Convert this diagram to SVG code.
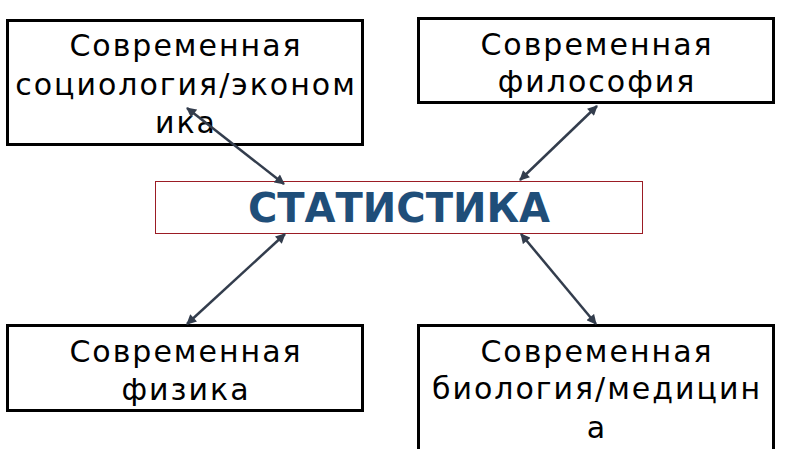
<svg xmlns="http://www.w3.org/2000/svg" width="800" height="449" viewBox="0 0 800 449">
<style>
.box{fill:#fff;stroke:#000;stroke-width:3}
.t{font-family:"DejaVu Sans",sans-serif;font-size:30px;fill:#000;text-anchor:middle;letter-spacing:2px}
.c{stroke:#333d4d;stroke-width:2.5;fill:none;marker-start:url(#ah);marker-end:url(#ah)}
</style>
<defs>
<marker id="ah" viewBox="0 0 10 10" refX="9" refY="5" markerWidth="4.4" markerHeight="4" orient="auto-start-reverse" markerUnits="strokeWidth">
<path d="M0,0 L10,5 L0,10 z" fill="#333d4d"/>
</marker>
</defs>
<rect width="800" height="449" fill="#fff"/>
<g id="n1">
<rect class="box" x="7.5" y="20.5" width="355" height="124"/>
<text class="t" x="186" y="56">Современная</text>
<text class="t" x="186" y="95">социология/эконом</text>
<text class="t" x="186" y="133">ика</text>
</g>
<g id="n2">
<rect class="box" x="418.5" y="18.5" width="355" height="84"/>
<text class="t" x="597" y="55">Современная</text>
<text class="t" x="597" y="92">философия</text>
</g>
<g id="n3">
<rect class="box" x="7.5" y="325.5" width="355" height="85"/>
<text class="t" x="186" y="362">Современная</text>
<text class="t" x="186" y="400">физика</text>
</g>
<g id="n4">
<path class="box" d="M418.5,452 V325.5 H773.5 V452"/>
<text class="t" x="597" y="362">Современная</text>
<text class="t" x="597" y="399">биология/медицин</text>
<text class="t" x="597" y="438">а</text>
</g>
<g id="center">
<rect x="155.5" y="181.5" width="487" height="52" fill="#fff" stroke="#9b1c24" stroke-width="1"/>
<text x="399" y="222" font-family="DejaVu Sans, sans-serif" font-weight="bold" font-size="40" fill="#1f4e79" text-anchor="middle">СТАТИСТИКА</text>
</g>
<g id="connectors">
<line class="c" x1="187" y1="108" x2="284" y2="184"/>
<line class="c" x1="597" y1="106" x2="520" y2="180"/>
<line class="c" x1="285" y1="234" x2="187" y2="324"/>
<line class="c" x1="521" y1="234" x2="596" y2="324"/>
</g>
</svg>
